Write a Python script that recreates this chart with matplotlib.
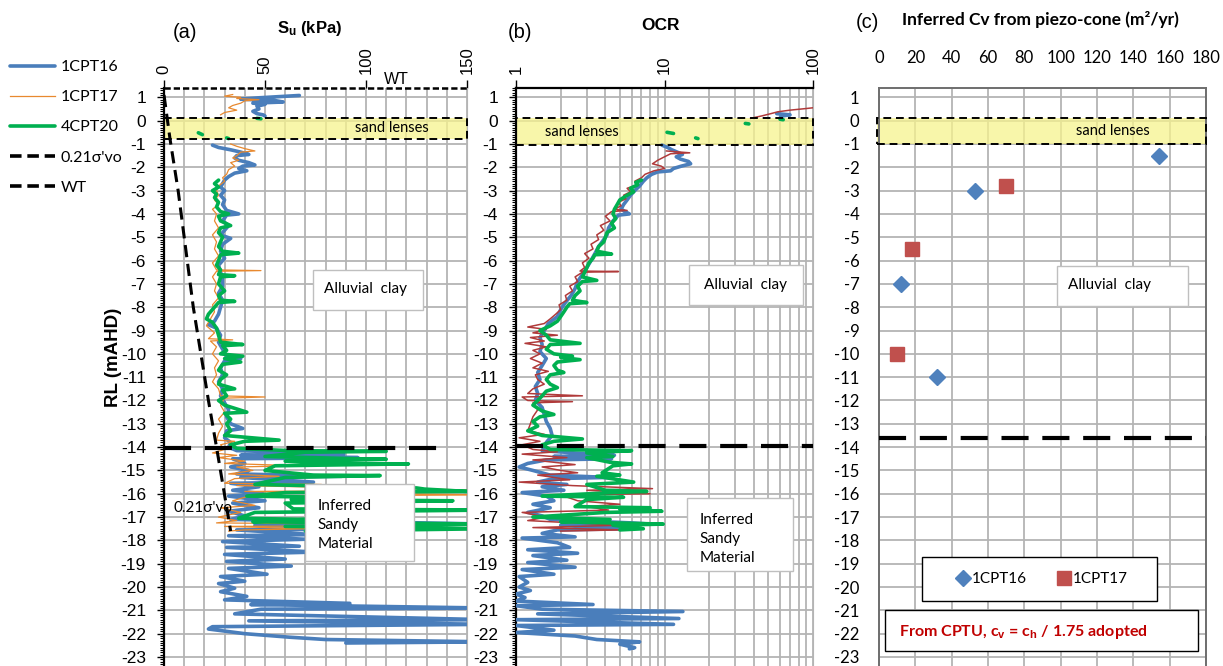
import numpy as np
import matplotlib
matplotlib.use('Agg')
import matplotlib.pyplot as plt
from matplotlib.patches import Rectangle
from matplotlib.lines import Line2D
from matplotlib.font_manager import FontProperties
import matplotlib.ticker as mticker

plt.rcParams['font.family'] = ['Liberation Sans', 'DejaVu Sans']
plt.rcParams['axes.unicode_minus'] = False
plt.rcParams['mathtext.fontset'] = 'custom'
plt.rcParams['mathtext.rm'] = 'Liberation Sans'
plt.rcParams['mathtext.bf'] = 'Liberation Sans:bold'
plt.rcParams['mathtext.it'] = 'Liberation Sans:italic'

CAL = ['Lato', 'DejaVu Sans']
N = None

# ---------------- data: (RL mAHD, value) ; (None, None) = break ----------------
# Panel (a): undrained shear strength Su (kPa)
su_1cpt16 = [
    (1.08, 67), (1.03, 57), (0.98, 47), (0.92, 38), (0.86, 55), (0.8, 59), (0.75, 44),
    (0.7, 50), (0.62, 46), (0.5, 47), (0.4, 44), (0.3, 46), (0.25, 49), (0.2, 50), (N, N),
    (-1.05, 24), (-1.15, 27), (-1.25, 33), (-1.35, 38), (-1.45, 42), (-1.5, 36), (-1.6, 35),
    (-1.7, 37), (-1.8, 42), (-1.9, 45), (-1.95, 39), (-2.05, 37), (-2.15, 41), (-2.25, 35),
    (-2.4, 32), (-2.55, 30), (-2.7, 29), (-2.85, 28), (-3.0, 30), (-3.2, 28), (-3.4, 30),
    (-3.6, 29), (-3.85, 31), (-4.0, 37), (-4.05, 31), (-4.3, 29), (-4.5, 32), (-4.7, 30),
    (-4.9, 28), (-5.05, 33), (-5.3, 29), (-5.6, 28), (-5.9, 30), (-6.2, 27), (-6.5, 28),
    (-6.8, 29), (-7.1, 29), (-7.4, 27), (-7.7, 29), (-8.0, 28), (-8.3, 27), (-8.6, 25),
    (-8.75, 22), (-8.9, 26), (-9.2, 28), (-9.5, 27), (-9.8, 29), (-10.1, 31), (-10.2, 38),
    (-10.3, 30), (-10.6, 28), (-10.9, 29), (-11.2, 27), (-11.5, 29), (-11.8, 28), (-12.1, 30),
    (-12.4, 32), (-12.7, 31), (-13.0, 33), (-13.2, 39), (-13.3, 31), (-13.6, 30), (-13.8, 33),
    (-14.0, 32), (-14.15, 36), (-14.3, 89), (-14.35, 38), (-14.45, 96), (-14.5, 34),
    (-14.7, 40), (-14.85, 33), (-15.0, 42), (-15.15, 36), (-15.25, 88), (-15.3, 38),
    (-15.5, 74), (-15.55, 33), (-15.7, 47), (-15.85, 34), (-16.0, 49), (-16.1, 32),
    (-16.3, 50), (-16.4, 34), (-16.6, 47), (-16.75, 32), (-16.95, 40), (-17.1, 33),
    (-17.3, 160), (-17.35, 45), (-17.5, 132), (-17.55, 36), (-17.75, 74), (-17.8, 32),
    (-17.95, 70), (-18.05, 29), (-18.25, 67), (-18.3, 31), (-18.5, 75), (-18.6, 30),
    (-18.8, 60), (-18.9, 31), (-19.1, 63), (-19.2, 32), (-19.45, 51), (-19.55, 28),
    (-19.75, 40), (-19.85, 27), (-20.05, 35), (-20.2, 28), (-20.4, 41), (-20.55, 30),
    (-20.7, 92), (-20.75, 43), (-20.9, 160), (-20.95, 48), (-21.15, 35), (-21.4, 160),
    (-21.45, 42), (-21.6, 160), (-21.7, 24), (-21.8, 22), (-22.0, 40), (-22.15, 62),
    (-22.25, 80), (-22.35, 160), (-22.4, 90),
]
su_1cpt17 = [
    (1.12, 34), (1.05, 30), (1.0, 38), (0.95, 36), (0.9, 47), (0.85, 40), (0.75, 38),
    (0.65, 34), (0.55, 32), (0.45, 36), (0.35, 30), (0.25, 28), (N, N),
    (-1.0, 33), (-1.1, 36), (-1.2, 40), (-1.3, 45), (-1.35, 38), (-1.5, 36), (-1.6, 34),
    (-1.7, 37), (-1.8, 33), (-1.95, 35), (-2.1, 32), (-2.3, 31), (-2.45, 29), (-2.6, 30),
    (-2.8, 27), (-3.0, 26), (-3.2, 27), (-3.4, 25), (-3.6, 27), (-3.8, 24), (-4.0, 26),
    (-4.3, 25), (-4.6, 27), (-4.9, 24), (-5.2, 26), (-5.5, 25), (-5.8, 27), (-6.1, 24),
    (-6.4, 26), (-6.43, 48), (-6.46, 26), (-6.7, 24), (-7.0, 26), (-7.3, 25), (-7.6, 27),
    (-7.9, 24), (-8.2, 25), (-8.5, 23), (-8.8, 21), (-9.1, 25), (-9.35, 22), (-9.4, 34),
    (-9.45, 23), (-9.7, 26), (-10.0, 24), (-10.3, 27), (-10.6, 25), (-10.9, 26), (-11.2, 24),
    (-11.5, 27), (-11.8, 28), (-11.85, 50), (-11.9, 30), (-12.2, 28), (-12.5, 30),
    (-12.8, 27), (-13.1, 29), (-13.4, 27), (-13.7, 26), (-13.75, 35), (-13.9, 28),
    (-14.1, 30), (-14.25, 24), (-14.35, 36), (-14.45, 27), (-14.6, 40), (-14.7, 30),
    (-14.8, 67), (-14.85, 36), (-15.0, 44), (-15.15, 32), (-15.25, 57), (-15.35, 35),
    (-15.55, 30), (-15.6, 78), (-15.65, 36), (-15.85, 160), (-15.9, 40), (-16.05, 160),
    (-16.1, 42), (-16.3, 34), (-16.5, 45), (-16.6, 28), (-16.8, 38), (-17.0, 27),
    (-17.15, 36), (-17.25, 26), (-17.35, 160), (-17.4, 30), (-17.5, 72), (-17.55, 40),
    (-17.6, 32),
]
su_4cpt20 = [
    (0.1, 46), (0.08, 48), (N, N), (-0.52, 17), (-0.6, 19), (N, N), (-0.74, 31), (-0.77, 32), (N, N),
    (-2.55, 27), (-2.7, 25), (-2.85, 27), (-3.0, 24), (-3.15, 26), (-3.3, 25), (-3.5, 27),
    (-3.7, 26), (-3.9, 28), (-4.0, 32), (-4.1, 27), (-4.3, 28), (-4.5, 33), (-4.6, 28),
    (-4.8, 27), (-5.0, 29), (-5.2, 28), (-5.4, 27), (-5.6, 29), (-5.68, 37), (-5.75, 28),
    (-6.0, 27), (-6.2, 26), (-6.4, 28), (-6.6, 27), (-6.65, 35), (-6.7, 28), (-7.0, 27),
    (-7.3, 30), (-7.5, 27), (-7.7, 28), (-7.75, 35), (-7.8, 27), (-8.1, 24), (-8.3, 22),
    (-8.5, 21), (-8.65, 24), (-8.9, 26), (-9.2, 27), (-9.5, 28), (-9.6, 39), (-9.65, 29),
    (-9.85, 31), (-10.0, 28), (-10.1, 39), (-10.2, 30), (-10.35, 38), (-10.45, 29),
    (-10.7, 27), (-10.9, 31), (-11.1, 28), (-11.3, 27), (-11.5, 35), (-11.55, 29),
    (-11.8, 31), (-12.0, 27), (-12.2, 30), (-12.5, 41), (-12.55, 30), (-12.8, 33),
    (-13.0, 31), (-13.3, 33), (-13.5, 30), (-13.7, 57), (-13.75, 40), (-13.9, 33),
    (-14.05, 36), (-14.15, 62), (-14.18, 110), (-14.22, 70), (-14.4, 50), (-14.5, 97),
    (-14.52, 110), (-14.6, 60), (-14.7, 86), (-14.72, 121), (-14.8, 55), (-15.0, 50),
    (-15.2, 74), (-15.22, 107), (-15.3, 60), (-15.6, 45), (-15.75, 125), (-15.8, 129),
    (-15.9, 150), (-15.95, 60), (-16.1, 41), (-16.15, 81), (-16.25, 63), (-16.3, 143),
    (-16.4, 60), (-16.65, 64), (-16.7, 160), (-16.8, 45), (-17.05, 37), (-17.1, 71),
    (-17.2, 44), (-17.3, 160), (-17.4, 60), (-17.5, 160), (-17.6, 70),
]
sigma_021 = [(1.1, 0), (-0.8, 3), (-3.0, 7), (-8.0, 14.5), (-12.0, 22), (-14.0, 26), (-17.6, 33)]

# Panel (b): OCR
ocr_1cpt16 = [
    (0.3, 57), (0.25, 70), (0.2, 62), (0.12, 60), (N, N),
    (-1.05, 9.6), (-1.15, 10.5), (-1.25, 11.2), (-1.35, 12.2), (-1.45, 13.2), (-1.55, 12.0),
    (-1.65, 12.8), (-1.75, 14.5), (-1.85, 15.0), (-1.95, 13.0), (-2.05, 11.5), (-2.15, 11.0),
    (-2.2, 9.0), (-2.3, 8.2), (-2.45, 7.6), (-2.6, 7.2), (-2.8, 6.8), (-3.0, 6.3),
    (-3.2, 5.9), (-3.4, 5.6), (-3.6, 5.3), (-3.8, 5.1), (-4.0, 5.8), (-4.05, 4.9),
    (-4.3, 4.5), (-4.6, 4.2), (-4.9, 4.1), (-5.1, 3.9), (-5.4, 3.6), (-5.7, 3.4),
    (-6.0, 3.2), (-6.3, 3.0), (-6.6, 2.8), (-6.9, 2.6), (-7.2, 2.5), (-7.5, 2.35),
    (-7.8, 2.15), (-8.1, 2.0), (-8.4, 1.9), (-8.7, 1.65), (-9.0, 1.55), (-9.3, 1.45),
    (-9.6, 1.5), (-9.9, 1.45), (-10.2, 1.6), (-10.5, 1.5), (-10.8, 1.4), (-11.1, 1.45),
    (-11.4, 1.35), (-11.7, 1.4), (-12.0, 1.35), (-12.3, 1.5), (-12.6, 1.55), (-12.9, 1.6),
    (-13.2, 1.7), (-13.5, 1.75), (-13.8, 1.6), (-14.0, 1.55), (-14.15, 1.5), (-14.25, 2.5),
    (-14.35, 4.6), (-14.4, 1.8), (-14.5, 4.4), (-14.55, 1.6), (-14.7, 1.2), (-14.85, 1.05),
    (-15.0, 1.3), (-15.2, 1.7), (-15.3, 4.2), (-15.35, 1.8), (-15.5, 1.4), (-15.6, 2.2),
    (-15.7, 1.5), (-15.85, 2.1), (-15.95, 1.1), (-16.1, 1.6), (-16.3, 1.8), (-16.45, 1.3),
    (-16.6, 1.7), (-16.8, 1.2), (-16.95, 1.5), (-17.1, 1.7), (-17.25, 6.0), (-17.3, 8.0),
    (-17.35, 2.0), (-17.5, 5.6), (-17.55, 1.9), (-17.7, 1.5), (-17.85, 2.5), (-17.9, 1.1),
    (-18.1, 1.9), (-18.3, 2.3), (-18.4, 1.2), (-18.55, 2.6), (-18.65, 1.3), (-18.85, 2.2),
    (-18.95, 1.2), (-19.15, 2.5), (-19.25, 1.1), (-19.45, 1.8), (-19.55, 1.05), (-19.8, 1.2),
    (-20.0, 1.05), (-20.15, 1.25), (-20.3, 1.0), (-20.45, 1.15), (-20.6, 1.0), (-20.75, 3.3),
    (-20.8, 1.0), (-20.95, 1.5), (-21.05, 13.3), (-21.15, 1.4), (-21.35, 12.5), (-21.4, 1.0),
    (-21.6, 11.5), (-21.65, 1.0), (-21.85, 1.8), (-21.95, 1.0), (-22.1, 2.5), (-22.25, 3.5),
    (-22.35, 6.8), (-22.45, 5.0), (-22.6, 6.3), (-22.65, 5.8),
]
ocr_1cpt17 = [
    (0.1, 38), (0.2, 45), (0.3, 52), (0.38, 58), (0.45, 70), (0.52, 90), (0.58, 110), (N, N),
    (-1.3, 10.3), (-1.38, 14.8), (-1.42, 11.0), (-1.55, 10.0), (-1.7, 9.0), (-1.85, 8.3),
    (-1.95, 9.5), (-2.05, 10.0), (-2.15, 8.5), (-2.3, 7.4), (-2.45, 7.0), (-2.6, 6.3),
    (-2.75, 6.6), (-2.9, 5.6), (-3.05, 5.9), (-3.2, 5.3), (-3.35, 5.5), (-3.5, 4.9),
    (-3.65, 5.1), (-3.8, 4.6), (-3.85, 5.6), (-3.9, 4.4), (-4.1, 4.0), (-4.3, 4.3),
    (-4.5, 3.7), (-4.7, 3.9), (-4.9, 3.5), (-5.1, 3.6), (-5.3, 3.2), (-5.5, 3.3),
    (-5.7, 2.9), (-5.9, 3.1), (-6.1, 2.8), (-6.3, 2.9), (-6.45, 2.7), (-6.47, 4.9),
    (-6.5, 2.8), (-6.7, 2.5), (-6.9, 2.6), (-7.1, 2.3), (-7.3, 2.4), (-7.5, 2.15),
    (-7.7, 2.2), (-7.9, 1.95), (-8.1, 2.0), (-8.3, 1.85), (-8.5, 1.7), (-8.7, 1.55),
    (-8.85, 1.2), (-8.95, 1.6), (-9.1, 1.3), (-9.2, 1.9), (-9.3, 1.25), (-9.45, 1.55),
    (-9.55, 1.15), (-9.7, 1.6), (-9.85, 1.3), (-10.0, 1.45), (-10.2, 1.25), (-10.4, 1.5),
    (-10.6, 1.3), (-10.75, 1.65), (-10.9, 1.35), (-11.1, 1.4), (-11.3, 1.55), (-11.5, 1.3),
    (-11.7, 1.2), (-11.8, 2.8), (-11.85, 1.1), (-12.0, 1.2), (-12.05, 2.4), (-12.1, 1.3),
    (-12.4, 1.4), (-12.7, 1.3), (-13.0, 1.25), (-13.3, 1.2), (-13.45, 1.55), (-13.6, 1.05),
    (-13.75, 1.45), (-13.9, 1.1), (-14.1, 1.3), (-14.2, 1.9), (-14.3, 1.1), (-14.45, 2.2),
    (-14.55, 1.3), (-14.75, 2.5), (-14.85, 1.5), (-15.0, 2.0), (-15.1, 2.6), (-15.2, 1.4),
    (-15.4, 2.3), (-15.5, 1.05), (-15.65, 2.4), (-15.78, 8.3), (-15.85, 3.0), (-16.0, 8.0),
    (-16.05, 2.0), (-16.3, 2.6), (-16.45, 5.0), (-16.55, 3.0), (-16.7, 4.2), (-16.8, 1.1),
    (-17.0, 1.6), (-17.15, 1.2), (-17.35, 5.0), (-17.45, 1.3), (-17.55, 5.2), (-17.6, 2.0),
]
ocr_4cpt20 = [
    (0.06, 60), (0.04, 63), (N, N), (-0.12, 35), (-0.14, 37), (N, N),
    (-0.5, 10.4), (-0.55, 11.5), (N, N), (-0.74, 16.2), (-0.77, 16.8), (N, N),
    (-2.55, 7.0), (-2.65, 6.4), (-2.75, 6.6), (-2.9, 5.9), (-3.05, 6.2), (-3.2, 5.6),
    (-3.4, 5.0), (-3.6, 4.8), (-3.8, 4.6), (-4.0, 4.5), (-4.2, 4.7), (-4.4, 4.4),
    (-4.6, 4.6), (-4.8, 4.1), (-5.0, 4.0), (-5.2, 3.9), (-5.4, 3.6), (-5.6, 3.5),
    (-5.72, 4.4), (-5.75, 3.4), (-5.9, 3.3), (-6.1, 3.1), (-6.3, 3.0), (-6.5, 2.9),
    (-6.7, 2.8), (-6.85, 3.5), (-6.9, 2.8), (-7.1, 2.6), (-7.3, 2.7), (-7.5, 2.5),
    (-7.7, 2.4), (-7.8, 3.0), (-7.85, 2.3), (-8.0, 2.2), (-8.2, 2.1), (-8.4, 2.0),
    (-8.6, 1.9), (-8.8, 1.7), (-9.0, 1.45), (-9.2, 1.6), (-9.4, 1.7), (-9.55, 2.7),
    (-9.6, 1.7), (-9.8, 1.6), (-10.0, 1.8), (-10.1, 2.4), (-10.15, 2.0), (-10.25, 2.7),
    (-10.35, 1.9), (-10.5, 1.8), (-10.7, 1.9), (-10.8, 2.1), (-10.9, 1.7), (-11.1, 1.6),
    (-11.3, 1.7), (-11.45, 1.9), (-11.6, 1.6), (-11.8, 1.5), (-12.0, 1.4), (-12.2, 1.3),
    (-12.45, 1.5), (-12.6, 1.8), (-12.7, 1.45), (-12.9, 1.3), (-13.1, 1.4), (-13.3, 1.2),
    (-13.5, 1.5), (-13.65, 2.8), (-13.75, 1.8), (-13.9, 1.5), (-14.1, 1.7), (-14.15, 6.0),
    (-14.25, 3.0), (-14.4, 4.5), (-14.45, 3.0), (-14.65, 4.3), (-14.72, 6.0), (-14.8, 4.5),
    (-15.1, 3.8), (-15.2, 5.0), (-15.25, 3.5), (-15.5, 6.2), (-15.6, 3.0), (-15.85, 4.0),
    (-15.9, 7.6), (-15.95, 4.5), (-16.1, 1.5), (-16.15, 5.3), (-16.25, 3.0), (-16.55, 2.5),
    (-16.6, 8.0), (-16.65, 5.0), (-16.75, 9.6), (-16.8, 4.0), (-17.0, 1.3), (-17.1, 4.3),
    (-17.2, 2.0), (-17.3, 9.8), (-17.35, 4.5), (-17.5, 7.2), (-17.55, 5.0),
]

# Panel (c): inferred Cv (m2/yr)
cv_1cpt16 = [154, 53, 12, 32]
rl_cv_1cpt16 = [-1.5, -3.0, -7.0, -11.0]
cv_1cpt17 = [70, 18, 10]
rl_cv_1cpt17 = [-2.8, -5.5, -10.0]

# Water table / layer boundaries (RL)
wt_top = 1.4
base_a = -14.05
base_b = -13.95
base_c = -13.6
lens_a = (-0.8, 0.13)
lens_b = (-1.05, 0.1)
lens_c = (-1.0, 0.13)

su_ticks = [0, 50, 100, 150]
ocr_ticks = [1, 10, 100]
cv_ticks = list(range(0, 181, 20))
rl_ticks = list(range(-23, 2))


def unpack(pairs):
    arr = np.array([(np.nan if a is None else a, np.nan if b is None else b) for a, b in pairs], dtype=float)
    return arr[:, 1], arr[:, 0]


W, H = 1223, 666
fig = plt.figure(figsize=(W / 100, H / 100), dpi=100)

C_BLUE = '#4A7EBB'
C_ORANGE = '#E8892F'
C_GREEN = '#00B050'
C_RED = '#B03A3A'
GRID = '#B4B4B4'
YELLOW = '#F6F38E'
# axes top at 88 px, RL -23 at 657 px
PX_PER_M = (657 - 88) / (wt_top + 23)
YLO, YHI = -23 - (H - 657) / PX_PER_M, wt_top
ax_h = (H - 88) / H


def style_rl_axis(ax):
    ax.set_ylim(YLO, YHI)
    ax.set_yticks(rl_ticks)
    ax.yaxis.set_minor_locator(mticker.MultipleLocator(0.1))
    ax.tick_params(axis='y', which='major', length=5, width=1, direction='out', pad=8, labelsize=12.5)
    ax.tick_params(axis='y', which='minor', length=3, width=0.8, direction='out')
    ax.yaxis.grid(True, which='major', color=GRID, lw=1.3)
    ax.yaxis.grid(False, which='minor')
    ax.spines['left'].set_linewidth(1.6)
    ax.spines['right'].set_color(GRID)
    ax.spines['bottom'].set_visible(False)
    ax.set_axisbelow(True)


def text_box(ax, x0, x1, y0, y1, lines, tx, ty, ha='center', ls=1.45):
    ax.add_patch(Rectangle((x0, y0), x1 - x0, y1 - y0, facecolor='white', edgecolor='#BFBFBF',
                           lw=1.0, zorder=8))
    ax.text(tx, ty, lines, ha=ha, va='center', family=CAL, fontsize=11, zorder=9, linespacing=ls)


def sand_lens(ax, x0, x1, lens, tx):
    ax.add_patch(Rectangle((x0, lens[0]), x1 - x0, lens[1] - lens[0], facecolor=YELLOW, alpha=0.75,
                           edgecolor='none', zorder=1.5, clip_on=False))
    ax.add_patch(Rectangle((x0, lens[0]), x1 - x0, lens[1] - lens[0], facecolor='none',
                           edgecolor='black', lw=1.4, ls=(0, (4, 2.5)), zorder=6, clip_on=False))
    ax.text(tx, (lens[0] + lens[1]) / 2, 'sand lenses', ha='center', va='center',
            family=CAL, fontsize=10.5, zorder=7)


# ---------------- Panel (a) ----------------
axa = fig.add_axes([164 / W, 0, (467 - 164) / W, ax_h])
axa.set_xlim(0, 150)
style_rl_axis(axa)
axa.xaxis.tick_top()
axa.set_xticks(su_ticks)
axa.set_xticks(np.arange(0, 151, 10), minor=True)
axa.tick_params(axis='x', which='major', length=6, width=1, direction='out', pad=4,
                labelsize=12, labelrotation=90)
axa.tick_params(axis='x', which='minor', length=0)
axa.xaxis.grid(True, which='both', color=GRID, lw=1.3)
axa.spines['top'].set_visible(False)

sand_lens(axa, 0, 150, lens_a, 113)
x, y = unpack(su_1cpt16)
l16, = axa.plot(x, y, color=C_BLUE, lw=2.6, zorder=3, solid_capstyle='round')
x, y = unpack(su_1cpt17)
l17, = axa.plot(x, y, color=C_ORANGE, lw=0.9, zorder=4)
x, y = unpack(su_4cpt20)
l20, = axa.plot(x, y, color=C_GREEN, lw=2.6, zorder=5, solid_capstyle='round')
x, y = unpack(sigma_021)
lsig, = axa.plot(x, y, color='black', lw=2.2, ls=(0, (4, 2.2)), zorder=6)
axa.plot([0, 138], [base_a, base_a], color='black', lw=3, ls=(0, (6.5, 3.3)), zorder=6)
axa.plot([0, 150], [wt_top, wt_top], color='black', lw=1.8, ls=(0, (2.5, 1.2)), zorder=7, clip_on=False)
axa.text(115, wt_top + 0.05, 'WT', ha='center', va='bottom', fontsize=11.5, zorder=7)
axa.text(4.5, -16.6, "0.21σ'vo", ha='left', va='center', family=CAL, fontsize=11, zorder=7)
text_box(axa, 74, 128, -8.1, -6.4, 'Alluvial  clay', 100, -7.2)
text_box(axa, 70, 124, -18.9, -15.6, 'Inferred\nSandy\nMaterial', 76, -17.35, ha='left')

# ---------------- Panel (b) ----------------
axb = fig.add_axes([516 / W, 0, (813 - 516) / W, ax_h])
axb.set_xscale('log')
axb.set_xlim(1, 100)
style_rl_axis(axb)
axb.xaxis.tick_top()
axb.set_xticks(ocr_ticks)
axb.xaxis.set_major_formatter(mticker.FixedFormatter([str(t) for t in ocr_ticks]))
axb.xaxis.set_minor_locator(mticker.LogLocator(base=10, subs=np.arange(2, 10)))
axb.xaxis.set_minor_formatter(mticker.NullFormatter())
axb.tick_params(axis='x', which='major', length=6, width=1, direction='out', pad=4,
                labelsize=12, labelrotation=90)
axb.tick_params(axis='x', which='minor', length=0)
axb.xaxis.grid(True, which='both', color=GRID, lw=1.3)
axb.spines['top'].set_linewidth(1.6)

sand_lens(axb, 1, 100, lens_b, 2.78)
x, y = unpack(ocr_1cpt16)
axb.plot(x, y, color=C_BLUE, lw=2.6, zorder=3, solid_capstyle='round')
x, y = unpack(ocr_1cpt17)
axb.plot(x, y, color=C_RED, lw=1.1, zorder=4)
x, y = unpack(ocr_4cpt20)
axb.plot(x, y, color=C_GREEN, lw=2.6, zorder=5, solid_capstyle='round')
axb.plot([1, 100], [base_b, base_b], color='black', lw=3, ls=(0, (6.5, 3.3)), zorder=6)
text_box(axb, 14.6, 85.6, -7.9, -6.2, 'Alluvial  clay', 35, -7.05)
text_box(axb, 14.1, 73.5, -19.3, -16.2, 'Inferred\nSandy\nMaterial', 17.3, -17.95, ha='left')

# ---------------- Panel (c) ----------------
axc = fig.add_axes([879 / W, 0, (1206 - 879) / W, ax_h])
axc.set_xlim(0, 180)
axc.set_ylim(YLO, YHI)
axc.set_yticks(rl_ticks)
axc.set_xticks(cv_ticks)
axc.xaxis.tick_top()
axc.tick_params(axis='x', length=0, pad=16)
axc.tick_params(axis='y', length=0, pad=14)
for lab in axc.get_xticklabels() + axc.get_yticklabels():
    lab.set_family(CAL)
    lab.set_fontsize(12)
axc.grid(True, color=GRID, lw=1.3)
axc.set_axisbelow(True)
for s in ['top', 'left', 'right']:
    axc.spines[s].set_color('#6E6E6E')
    axc.spines[s].set_linewidth(1.4)
axc.spines['bottom'].set_visible(False)

sand_lens(axc, -1, 180, lens_c, 129)
axc.plot([0, 180], [base_c, base_c], color='black', lw=3, ls=(0, (6.5, 3.3)), zorder=6)
s16, = axc.plot(cv_1cpt16, rl_cv_1cpt16, ls='none', marker='D', ms=8.5, color='#4F81BD', zorder=7)
s17, = axc.plot(cv_1cpt17, rl_cv_1cpt17, ls='none', marker='s', ms=9.5, color='#C0504D', zorder=7)
text_box(axc, 98, 170, -7.95, -6.25, 'Alluvial  clay', 127, -7.05)
axc.add_patch(Rectangle((23.7, -20.6), 129.3, 1.9, facecolor='white', edgecolor='black', lw=1.0, zorder=8))
leg = axc.legend([s16, s17], ['1CPT16', '1CPT17'], loc='center', bbox_to_anchor=(89.7, -19.65),
                 bbox_transform=axc.transData, ncol=2, frameon=False,
                 prop=FontProperties(family=CAL, size=11), handlelength=0.9, handletextpad=0.15,
                 columnspacing=2.0, borderpad=0)
leg.set_zorder(9)
axc.add_patch(Rectangle((3.3, -22.75), 172.3, 1.75, facecolor='white', edgecolor='black', lw=1.0, zorder=8))
axc.text(11, -21.92, r'From CPTU, c$_\mathbf{v}$ = c$_\mathbf{h}$ / 1.75 adopted', color='#C00000',
         family=CAL, fontweight='bold', fontsize=11.5, ha='left', va='center', zorder=9)

# ---------------- titles & labels ----------------
fig.text(185 / W, 1 - 32 / H, '(a)', ha='center', va='center', fontsize=14.5)
fig.text(310 / W, 1 - 28 / H, r'$\mathbf{S_u}$ (kPa)', ha='center', va='center', fontsize=12, fontweight='bold')
fig.text(520 / W, 1 - 32 / H, '(b)', ha='center', va='center', fontsize=14.5)
fig.text(660 / W, 1 - 26 / H, 'OCR', ha='center', va='center', fontsize=12.5, fontweight='bold')
fig.text(867 / W, 1 - 22 / H, '(c)', ha='center', va='center', fontsize=14.5)
fig.text(1040 / W, 1 - 20 / H, 'Inferred Cv from piezo-cone (m²/yr)', ha='center', va='center',
         family=CAL, fontsize=12.5, fontweight='bold')
fig.text(113 / W, 1 - 357 / H, 'RL (mAHD)', ha='center', va='center', rotation=90,
         fontsize=13.5, fontweight='bold')

# ---------------- left legend ----------------
h_sig = Line2D([], [], color='black', lw=2.6, ls=(0, (3.2, 1.6)))
h_wt = Line2D([], [], color='black', lw=2.6, ls=(0, (3.2, 1.6)))
fig.legend([l16, l17, l20, h_sig, h_wt], ['1CPT16', '1CPT17', '4CPT20', "0.21σ'vo", 'WT'],
           loc='upper left', bbox_to_anchor=(10 / W, 1 - 60 / H), frameon=False,
           prop=FontProperties(family=CAL, size=11.5), handlelength=2.8, handletextpad=0.35,
           labelspacing=1.0, borderpad=0, borderaxespad=0)

fig.savefig('out.png', dpi=100)
